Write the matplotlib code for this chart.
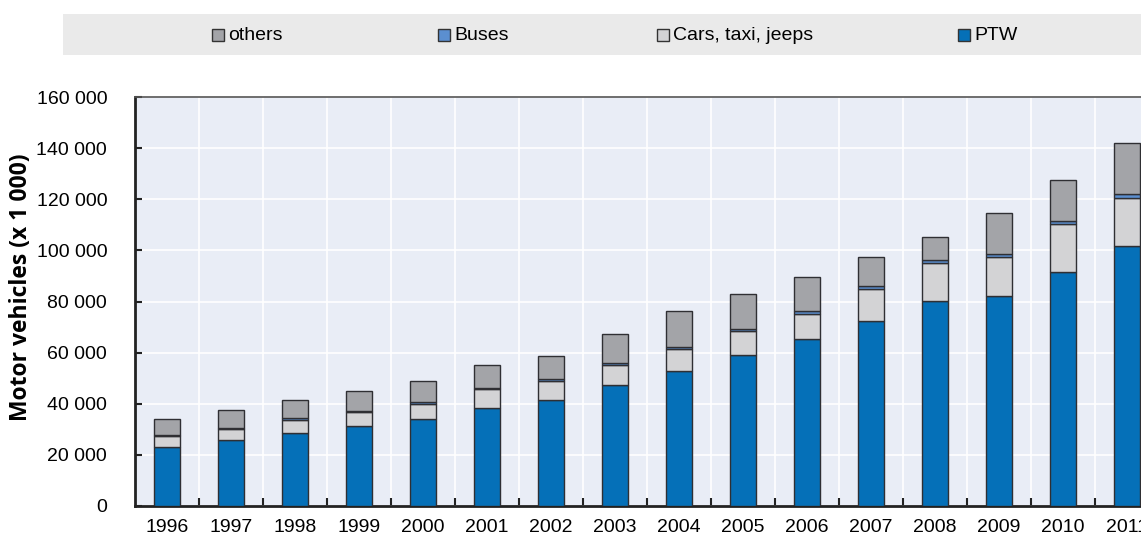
#!/usr/bin/env python3

import numpy as np
import matplotlib.pyplot as plt
from matplotlib.patches import Rectangle
from matplotlib.ticker import FuncFormatter, FixedLocator

# Motor vehicles by type (x 1 000)
years = [str(y) for y in range(1996, 2012)]
ptw = [23200, 25800, 28700, 31300, 34000, 38400, 41400, 47400,
       52800, 59100, 65400, 72500, 80300, 82300, 91500, 101800]
cars = [4100, 4300, 5100, 5300, 6000, 7400, 7600, 7800,
        8700, 9300, 9900, 12500, 14900, 15000, 18700, 18800]
buses = [500, 500, 500, 500, 500, 500, 600, 600,
         600, 700, 800, 900, 1000, 1200, 1300, 1500]
others = [6100, 6800, 7100, 7900, 8400, 8700, 9200, 11300,
          14000, 13900, 13300, 11400, 9100, 16200, 16100, 19800]

series = [("PTW", ptw, "#0570b8"),
          ("Cars, taxi, jeeps", cars, "#d3d3d5"),
          ("Buses", buses, "#5b8fd0"),
          ("others", others, "#a3a4a8")]

FONT = ['Liberation Sans Narrow', 'Liberation Sans', 'DejaVu Sans']
plt.rcParams['font.family'] = FONT

fig = plt.figure(figsize=(11.41, 5.36), dpi=100)
W, H = 1141, 536
ax = fig.add_axes([135 / W, 1 - 506 / H, 1024 / W, 409 / H])
ax.set_facecolor('#e9edf6')

x = np.arange(len(years))
bottom = np.zeros(len(years))
for name, vals, col in series:
    ax.bar(x, vals, width=0.41, bottom=bottom, color=col,
           edgecolor='#2f2f33', linewidth=1.0, zorder=3)
    bottom += np.array(vals)

ax.set_xlim(-0.5, len(years) - 0.5)
ax.set_ylim(0, 160000)
ax.yaxis.set_major_locator(FixedLocator(range(0, 160001, 20000)))
ax.yaxis.set_major_formatter(FuncFormatter(
    lambda v, p: f"{int(v):,}".replace(",", " ")))
ax.set_xticks(x)
ax.set_xticklabels(years)
ax.set_xticks(x[:-1] + 0.5, minor=True)
ax.tick_params(axis='x', which='major', length=0, labelsize=14, pad=9)
ax.tick_params(axis='x', which='minor', direction='in', length=6,
               width=1.5, color='#222222')
ax.tick_params(axis='y', direction='in', length=5, width=1.5,
               color='#222222', labelsize=14, pad=20)

ax.grid(True, which='major', axis='y', color='white', linewidth=1.2, zorder=0)
ax.grid(True, which='minor', axis='x', color='white', linewidth=1.2, zorder=0)
for side in ['left', 'bottom']:
    ax.spines[side].set_color('#222222')
    ax.spines[side].set_linewidth(2)
ax.spines['top'].set_color('#555555')
ax.spines['top'].set_linewidth(1.2)
ax.spines['right'].set_visible(False)

fig.text(21 / W, 1 - 287 / H, "Motor vehicles (x 1 000)", rotation=90,
         ha='center', va='center', fontsize=16.5, fontweight='bold',
         family=['Open Sans', 'DejaVu Sans'])

# legend band
fig.patches.append(Rectangle((63 / W, 1 - 55 / H), (W - 63) / W, 41 / H,
                             transform=fig.transFigure, facecolor='#eaeaea',
                             edgecolor='none', zorder=0))
leg_x = {"others": 212, "Buses": 438, "Cars, taxi, jeeps": 657, "PTW": 958}
for name, vals, col in series[::-1]:
    x0 = leg_x[name]
    fig.patches.append(Rectangle((x0 / W, 1 - 41 / H), 12 / W, 12 / H,
                                 transform=fig.transFigure, facecolor=col,
                                 edgecolor='#333333', linewidth=1, zorder=2))
    fig.text((x0 + 16) / W, 1 - 35 / H, name, ha='left', va='center',
             fontsize=14)

fig.savefig('out.png', dpi=100)
